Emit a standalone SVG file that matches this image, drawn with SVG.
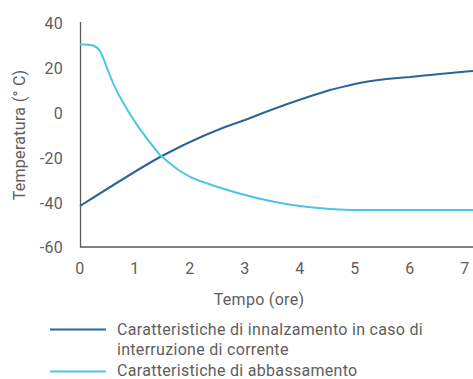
<svg xmlns="http://www.w3.org/2000/svg" width="473" height="379" viewBox="0 0 473 379">
<style>
text{font-family:Roboto,"Liberation Sans",sans-serif;fill:#5e5e5e;font-size:16px;letter-spacing:0.3px}
.axis{stroke:#5a5a5a;stroke-width:1.3;fill:none}
.dark{stroke:#2a6599;stroke-width:2;fill:none}
.light{stroke:#4cc6e3;stroke-width:2;fill:none}
.yt{text-anchor:end}
.xt{text-anchor:middle}
</style>
<rect width="473" height="379" fill="#fff"/>
<g id="axes">
<path class="axis" d="M80.5,22 V247 H473"/>
<text class="yt" x="63" y="28.5">40</text>
<text class="yt" x="63" y="73.5">20</text>
<text class="yt" x="63" y="118.5">0</text>
<text class="yt" x="63" y="163.5">-20</text>
<text class="yt" x="63" y="208.5">-40</text>
<text class="yt" x="63" y="252.5">-60</text>
<text class="xt" x="80" y="273.5">0</text>
<text class="xt" x="135" y="273.5">1</text>
<text class="xt" x="190" y="273.5">2</text>
<text class="xt" x="245" y="273.5">3</text>
<text class="xt" x="300" y="273.5">4</text>
<text class="xt" x="355" y="273.5">5</text>
<text class="xt" x="410" y="273.5">6</text>
<text class="xt" x="465" y="273.5">7</text>
<text class="xt" x="259" y="305">Tempo (ore)</text>
<text class="xt" transform="translate(25,135) rotate(-90)">Temperatura (° C)</text>
</g>
<g id="connectors">
<path id="rise" class="dark" d="M80,206 C110,187 140,168 160,157 C190,141 220,128 245,120 C275,108 300,99 330,90 C355,84 365,80 410,77 C440,74 460,72 473,71"/>
<path id="fall" class="light" d="M80,44.5 C90,44 96,45 100,51 C105,60 110,80 120,97 C128,112 138,129 160,155 C175,168 185,176 200,181 C225,190 245,196 275,202 C300,207 320,209 350,210 L473,210"/>
</g>
<g id="legend">
<line class="dark" x1="50" y1="329.5" x2="106" y2="329.5"/>
<line class="light" x1="50" y1="371.5" x2="106" y2="371.5"/>
<text x="117" y="335">Caratteristiche di innalzamento in caso di</text>
<text x="117" y="355">interruzione di corrente</text>
<text x="117" y="376">Caratteristiche di abbassamento</text>
</g>
</svg>
